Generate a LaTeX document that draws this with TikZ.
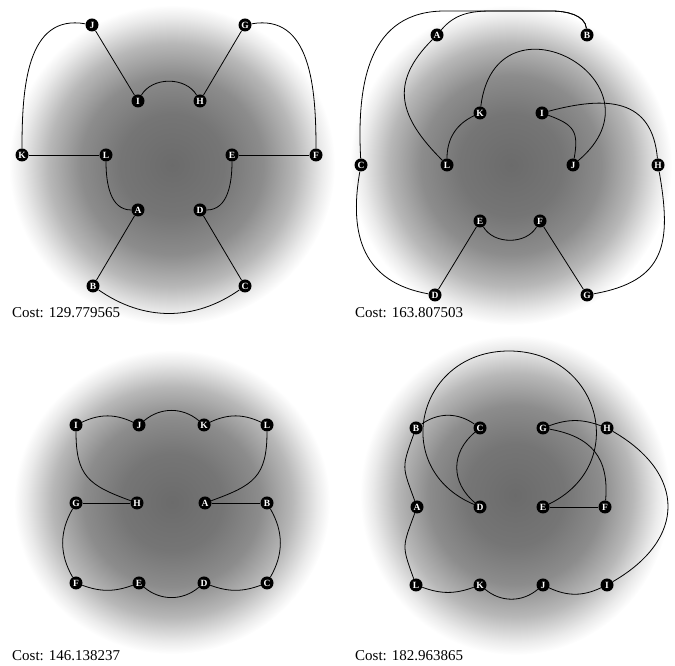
\documentclass[tikz,border=0pt]{standalone}
\usepackage{fontspec}
\setmainfont{Liberation Serif}
\usepackage{tikz}
\pgfdeclareradialshading{haze}{\pgfpoint{0bp}{0bp}}{color(0bp)=(black!58); color(8bp)=(black!54); color(14bp)=(black!45); color(19bp)=(black!28); color(23bp)=(black!8); color(25bp)=(white); color(50bp)=(white)}

\begin{document}
\begin{tikzpicture}[x=1pt,y=1pt]
\tikzstyle{every node}=[font=\fontsize{15}{17}\selectfont]
\tikzstyle{vert}=[circle, fill=black, text=white, inner sep=0pt, minimum size=13pt, font=\bfseries\fontsize{9.5}{10}\selectfont]
\tikzstyle{edge}=[line width=0.8pt, black]
\tikzstyle{cost}=[anchor=base west, inner sep=0pt]
\useasboundingbox (0,0) rectangle (675,666);

% backgrounds
\shade[shading=haze] (172,501) ellipse [x radius=163, y radius=160];
\shade[shading=haze] (511,501) ellipse [x radius=161, y radius=160];
\shade[shading=haze] (172,164) ellipse [x radius=158, y radius=152];
\shade[shading=haze] (515,171) ellipse [x radius=155, y radius=160];

% top left
\node[vert] (J1) at (92,641) {J};
\node[vert] (G1) at (245,641) {G};
\node[vert] (I1) at (138,565) {I};
\node[vert] (H1) at (200,565) {H};
\node[vert] (K1) at (22,511) {K};
\node[vert] (L1) at (106,511) {L};
\node[vert] (E1) at (232,511) {E};
\node[vert] (F1) at (316,511) {F};
\node[vert] (A1) at (138,456) {A};
\node[vert] (D1) at (200,456) {D};
\node[vert] (B1) at (93,380) {B};
\node[vert] (C1) at (245,380) {C};
\node[cost] (cost1) at (12,348) {Cost: 129.779565};
\draw[edge] (J1) -- (I1);
\draw[edge] (G1) -- (H1);
\draw[edge] (K1) -- (L1);
\draw[edge] (E1) -- (F1);
\draw[edge] (A1) -- (B1);
\draw[edge] (D1) -- (C1);
\draw[edge] (I1) to[out=60,in=120] (H1);
\draw[edge] (J1) to[out=170,in=90,looseness=1.1] (K1);
\draw[edge] (G1) to[out=10,in=90,looseness=1.1] (F1);
\draw[edge] (L1) to[out=-90,in=180] (A1);
\draw[edge] (E1) to[out=-90,in=0] (D1);
\draw[edge] (B1) to[out=-35,in=-145] (C1);

% top right
\node[vert] (A2) at (437,631) {A};
\node[vert] (B2) at (587,631) {B};
\node[vert] (K2) at (480,553) {K};
\node[vert] (I2) at (542,553) {I};
\node[vert] (C2) at (361,501) {C};
\node[vert] (L2) at (447,501) {L};
\node[vert] (J2) at (573,501) {J};
\node[vert] (H2) at (658,501) {H};
\node[vert] (E2) at (480,445) {E};
\node[vert] (F2) at (540,445) {F};
\node[vert] (D2) at (435,371) {D};
\node[vert] (G2) at (587,371) {G};
\node[cost] (cost2) at (355,348) {Cost: 163.807503};
\coordinate (tl2) at (445,655);
\coordinate (jn2) at (492,655);
\coordinate (tr2) at (552,655);
\draw[edge] (D2) -- (E2);
\draw[edge] (F2) -- (G2);
\draw[edge] (E2) to[out=-60,in=-120] (F2);
\draw[edge] (C2) to[out=-100,in=170,looseness=1.2] (D2);
\draw[edge] (H2) to[out=-80,in=10,looseness=1.35] (G2);
\draw[edge] (I2) to[out=15,in=95,looseness=1.3] (H2);
\draw[edge] (I2) to[out=-20,in=80,looseness=1.4] (J2);
\draw[edge] (K2) to[out=83,in=40,looseness=2.8] (J2);
\draw[edge] (K2) to[out=205,in=90] (L2);
\draw[edge] (A2) to[out=225,in=135,looseness=1.3] (L2);
\draw[edge] (A2) to[out=50,in=180] (jn2) -- (tr2) to[out=0,in=95,looseness=0.9] (B2);
\draw[edge] (C2) to[out=93,in=180,looseness=1.15] (tl2) -- (tr2) to[out=0,in=95,looseness=0.9] (B2);

% bottom left
\node[vert] (I3) at (76,241) {I};
\node[vert] (J3) at (139,241) {J};
\node[vert] (K3) at (204,241) {K};
\node[vert] (L3) at (267,241) {L};
\node[vert] (G3) at (76,163) {G};
\node[vert] (H3) at (137,163) {H};
\node[vert] (A3) at (205,163) {A};
\node[vert] (B3) at (267,163) {B};
\node[vert] (F3) at (76,83) {F};
\node[vert] (E3) at (139,83) {E};
\node[vert] (D3) at (204,83) {D};
\node[vert] (C3) at (267,83) {C};
\node[cost] (cost3) at (12,5) {Cost: 146.138237};
\draw[edge] (G3) -- (H3);
\draw[edge] (A3) -- (B3);
\draw[edge] (I3) to[out=25,in=155] (J3);
\draw[edge] (J3) to[out=40,in=140] (K3);
\draw[edge] (K3) to[out=25,in=155] (L3);
\draw[edge] (I3) to[out=-90,in=160,looseness=1.3] (H3);
\draw[edge] (L3) to[out=-90,in=20,looseness=1.3] (A3);
\draw[edge] (G3) to[out=-120,in=120] (F3);
\draw[edge] (B3) to[out=-60,in=60] (C3);
\draw[edge] (F3) to[out=-20,in=-160] (E3);
\draw[edge] (E3) to[out=-40,in=-140] (D3);
\draw[edge] (D3) to[out=-20,in=-160] (C3);

% bottom right
\node[vert] (B4) at (416,238) {B};
\node[vert] (C4) at (480,238) {C};
\node[vert] (G4) at (543,238) {G};
\node[vert] (H4) at (607,238) {H};
\node[vert] (A4) at (417,159) {A};
\node[vert] (D4) at (480,159) {D};
\node[vert] (E4) at (543,159) {E};
\node[vert] (F4) at (605,159) {F};
\node[vert] (L4) at (416,81) {L};
\node[vert] (K4) at (480,81) {K};
\node[vert] (J4) at (543,81) {J};
\node[vert] (I4) at (607,81) {I};
\node[cost] (cost4) at (355,5) {Cost: 182.963865};
\coordinate (top4) at (509,315);
\draw[edge] (E4) -- (F4);
\draw[edge] (B4) to[out=-110,in=110,looseness=1.4] (A4);
\draw[edge] (B4) to[out=35,in=145] (C4);
\draw[edge] (C4) to[out=-140,in=140,looseness=1.15] (D4);
\draw[edge] (D4) to[out=157,in=180,looseness=1.5] (top4) to[out=0,in=26,looseness=1.47] (E4);
\draw[edge] (G4) to[out=-10,in=85,looseness=1.2] (F4);
\draw[edge] (G4) to[out=20,in=160] (H4);
\draw[edge] (H4) to[out=-30,in=30,looseness=1.45] (I4);
\draw[edge] (I4) to[out=-155,in=-25] (J4);
\draw[edge] (J4) to[out=-140,in=-40] (K4);
\draw[edge] (K4) to[out=-160,in=-20] (L4);
\draw[edge] (L4) to[out=110,in=-110,looseness=1.4] (A4);
\end{tikzpicture}
\end{document}
